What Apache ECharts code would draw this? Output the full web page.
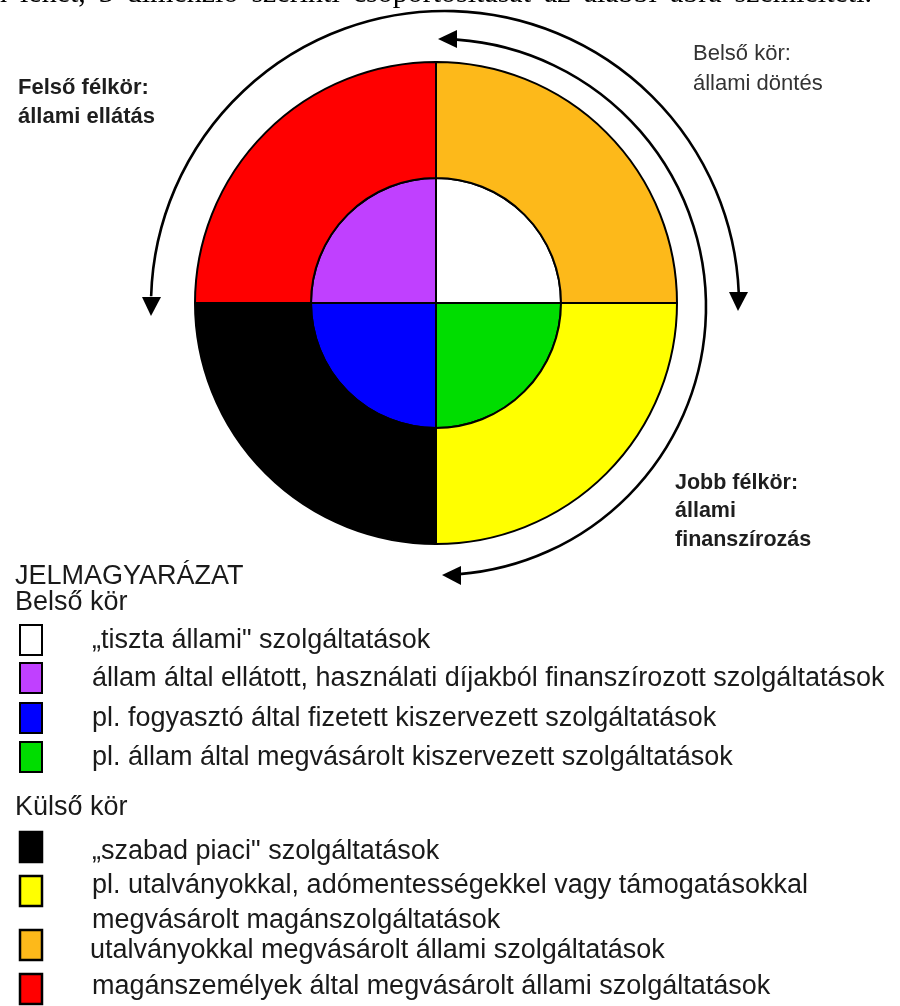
<!DOCTYPE html>
<html>
<head>
<meta charset="utf-8">
<script src="https://cdn.jsdelivr.net/npm/echarts@6/dist/echarts.min.js"></script>
<style>
  html, body { margin: 0; padding: 0; background: #fff; }
  #chart { width: 900px; height: 1006px; }
</style>
</head>
<body>
<div id="chart"></div>
<script>
// ---- data ----
const introText = 'n lehet, 3 dimenzió szerinti csoportosítását az alábbi ábra szemlélteti.';
const innerTitle = 'Belső kör';
const outerTitle = 'Külső kör';
const legendTitle = 'JELMAGYARÁZAT';
// legend order
const innerNames = [
  '„tiszta állami" szolgáltatások',
  'állam által ellátott, használati díjakból finanszírozott szolgáltatások',
  'pl. fogyasztó által fizetett kiszervezett szolgáltatások',
  'pl. állam által megvásárolt kiszervezett szolgáltatások'
];
const innerColors = ['#ffffff', '#c040ff', '#0000ff', '#00dd00'];
const innerValues = [25, 25, 25, 25];
const outerNames = [
  '„szabad piaci" szolgáltatások',
  'pl. utalványokkal, adómentességekkel vagy támogatásokkal\nmegvásárolt magánszolgáltatások',
  'utalványokkal megvásárolt állami szolgáltatások',
  'magánszemélyek által megvásárolt állami szolgáltatások'
];
const outerColors = ['#000000', '#ffff00', '#fdb91a', '#ff0000'];
const outerValues = [25, 25, 25, 25];
// clockwise from 12 o'clock (indices into legend order)
const innerPieOrder = [0, 3, 2, 1];
const outerPieOrder = [2, 1, 0, 3];
const annotations = [
  { lines: ['Felső félkör:', 'állami ellátás'], bold: true },
  { lines: ['Belső kör:', 'állami döntés'], bold: false },
  { lines: ['Jobb félkör:', 'állami', 'finanszírozás'], bold: true }
];

// ---- chart ----
const chart = echarts.init(document.getElementById('chart'), null, { renderer: 'canvas' });
const FONT = "'Liberation Sans', Arial, sans-serif";
const SERIF = "'Liberation Serif', 'DejaVu Serif', serif";
const CX = 436, CY = 303, R_IN = 125, R_OUT = 241;

function pieData(names, colors, values, order) {
  return order.map(i => ({
    name: names[i],
    value: values[i],
    itemStyle: { color: colors[i] }
  }));
}

const g = [];
function txt(x, y, text, size, opts) {
  opts = opts || {};
  g.push({
    type: 'text', silent: true,
    style: {
      x: x, y: y, text: text,
      fill: opts.fill || '#1a1a1a',
      font: (opts.bold ? 'bold ' : '') + size + 'px ' + (opts.family || FONT),
      textAlign: opts.align || 'left', align: opts.align || 'left',
      textVerticalAlign: 'middle', verticalAlign: 'middle'
    }
  });
}

// intro line (justified, cropped at the top of the picture)
(function () {
  const size = 30;
  const ctx = document.createElement('canvas').getContext('2d');
  ctx.font = size + 'px ' + SERIF;
  const words = introText.split(' ');
  const widths = words.map(w => ctx.measureText(w).width);
  const x0 = -8, x1 = 872;
  const total = widths.reduce((a, b) => a + b, 0);
  const gap = (x1 - x0 - total) / (words.length - 1);
  let x = x0;
  words.forEach((w, i) => {
    txt(x, -6, w, size, { family: SERIF, fill: '#000' });
    x += widths[i] + gap;
  });
})();

// annotation labels
const annPos = [[18, 88, 29], [693, 54, 30], [675, 483, 28.5]];
const annSize = [22, 22, 21.5];
annotations.forEach((a, k) => {
  const p = annPos[k];
  a.lines.forEach((line, j) => {
    txt(p[0], p[1] + j * p[2], line, annSize[k], { bold: a.bold, fill: a.bold ? '#1e1e1e' : '#333' });
  });
});

// arrows
function arc(cx, cy, r, a0, a1) {
  g.push({ type: 'arc', silent: true,
    shape: { cx: cx, cy: cy, r: r, startAngle: a0, endAngle: a1, clockwise: true },
    style: { stroke: '#000', lineWidth: 2.6, fill: null } });
}
function head(points) {
  g.push({ type: 'polygon', silent: true, shape: { points: points }, style: { fill: '#000' } });
}
// upper half (outer) arrow
arc(445, 305, 294, Math.PI + 0.03, 2 * Math.PI - 0.04);
head([[151, 316], [142, 297], [161, 297]]);
head([[738, 311], [729, 292], [748, 292]]);
// right half (inner) arrow
arc(438, 307, 268, -Math.PI / 2 + 0.07, Math.PI / 2 - 0.08);
head([[438, 39], [457, 30], [457, 48]]);
head([[442, 575], [461, 566], [461, 585]]);

// legend
txt(15, 577, legendTitle, 27);
txt(15, 603, innerTitle, 27);
const innerRows = [641, 679, 719, 758];
innerNames.forEach((n, i) => {
  g.push({ type: 'rect', silent: true,
    shape: { x: 20, y: innerRows[i] - 16, width: 22, height: 30 },
    style: { fill: innerColors[i], stroke: '#000', lineWidth: 2 } });
  txt(92, innerRows[i], n, 27);
});
txt(15, 808, outerTitle, 27);
const outerBoxes = [847, 891, 945, 989];
const outerText = [852, 886, 951, 987];
outerNames.forEach((n, i) => {
  g.push({ type: 'rect', silent: true,
    shape: { x: 20, y: outerBoxes[i] - 15, width: 22, height: 30 },
    style: { fill: outerColors[i], stroke: '#000', lineWidth: 2.5 } });
  const parts = n.split('\n');
  parts.forEach((p, j) => txt(i === 2 ? 90 : 92, outerText[i] + j * 35, p, 27));
});

const ringStyle = { borderColor: '#000', borderWidth: 2 };
chart.setOption({
  backgroundColor: '#ffffff',
  animation: false,
  series: [
    {
      type: 'pie', name: innerTitle, center: [CX, CY], radius: [0, R_IN],
      startAngle: 90, clockwise: true, silent: true,
      label: { show: false }, labelLine: { show: false },
      emphasis: { disabled: true },
      itemStyle: ringStyle,
      data: pieData(innerNames, innerColors, innerValues, innerPieOrder)
    },
    {
      type: 'pie', name: outerTitle, center: [CX, CY], radius: [R_IN, R_OUT],
      startAngle: 90, clockwise: true, silent: true,
      label: { show: false }, labelLine: { show: false },
      emphasis: { disabled: true },
      itemStyle: ringStyle,
      data: pieData(outerNames, outerColors, outerValues, outerPieOrder)
    }
  ],
  graphic: g
});
</script>
</body>
</html>
